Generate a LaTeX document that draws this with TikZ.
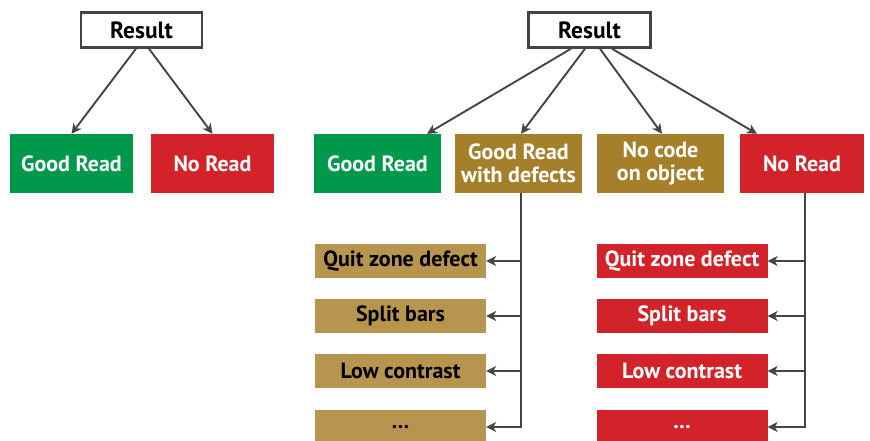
\documentclass[tikz,border=0pt]{standalone}
\usepackage{fontspec}
\setmainfont{PT Sans}
\usetikzlibrary{arrows.meta}
\definecolor{goodgreen}{HTML}{00984A}
\definecolor{noread}{HTML}{D2232A}
\definecolor{defgold}{HTML}{A67F2A}
\definecolor{subgold}{HTML}{B8954F}
\definecolor{linegray}{HTML}{444444}
\begin{document}
\begin{tikzpicture}[x=1pt,y=-1pt,
	every node/.style={inner sep=0pt,align=center,font=\bfseries\fontsize{22}{23}\selectfont},
	result/.style={draw=linegray,line width=2.5pt,fill=white,minimum width=121pt,minimum height=35pt,font=\bfseries\fontsize{23.5}{24}\selectfont},
	topbox/.style={minimum width=123pt,minimum height=59pt,text=white,font=\bfseries\fontsize{22}{23.5}\selectfont},
	subbox/.style={minimum width=171pt,minimum height=34pt},
	link/.style={linegray,line width=1.9pt,-{Stealth[length=10pt,width=10pt,inset=3pt]}}]
	\useasboundingbox (0,0) rectangle (870,440);

	\node[result] at (141.5,30) (res1) {Result};
	\node[topbox,fill=goodgreen] at (71.5,163.5) (good1) {Good Read};
	\node[topbox,fill=noread] at (212.5,163.5) (no1) {No Read};

	\node[result,minimum width=122pt] at (589.5,30) (res2) {Result};
	\node[topbox,fill=goodgreen,minimum width=127pt] at (377.5,163.5) (good2) {Good Read};
	\node[topbox,fill=defgold,minimum width=127pt] at (518.5,163.5) (defects) {Good Read\\with defects};
	\node[topbox,fill=defgold,minimum width=127pt] at (660.5,163.5) (nocode) {No code\\on object};
	\node[topbox,fill=noread,minimum width=124pt] at (802,163.5) (no2) {No Read};

	\node[subbox,fill=subgold] at (400.5,261) (dq) {Quit zone defect};
	\node[subbox,fill=subgold] at (400.5,316) (ds) {Split bars};
	\node[subbox,fill=subgold] at (400.5,371) (dl) {Low contrast};
	\node[subbox,fill=subgold] at (400.5,427) (dm) {\dots};

	\node[subbox,fill=noread,text=white] at (682,261) (nq) {Quit zone defect};
	\node[subbox,fill=noread,text=white] at (682,316) (ns) {Split bars};
	\node[subbox,fill=noread,text=white] at (682,371) (nl) {Low contrast};
	\node[subbox,fill=noread,text=white] at (682,427) (nm) {\dots};

	\draw[link] ([xshift=-5.5pt]res1.south) -- (good1.north);
	\draw[link] ([xshift=7.5pt]res1.south) -- (no1.north);

	\draw[link] ([xshift=-18.5pt]res2.south) -- ([xshift=49.5pt]good2.north);
	\draw[link] ([xshift=-4.5pt]res2.south) -- ([xshift=2.5pt]defects.north);
	\draw[link] ([xshift=10.5pt]res2.south) -- ([xshift=1.5pt]nocode.north);
	\draw[link] ([xshift=22.5pt]res2.south) -- ([xshift=-45pt]no2.north);

	\draw[link] ([xshift=2.5pt]defects.south) |- (dm.east);
	\draw[link] ([xshift=2.5pt]defects.south |- dq.east) -- (dq.east);
	\draw[link] ([xshift=2.5pt]defects.south |- ds.east) -- (ds.east);
	\draw[link] ([xshift=2.5pt]defects.south |- dl.east) -- (dl.east);

	\draw[link] ([xshift=3pt]no2.south) |- (nm.east);
	\draw[link] ([xshift=3pt]no2.south |- nq.east) -- (nq.east);
	\draw[link] ([xshift=3pt]no2.south |- ns.east) -- (ns.east);
	\draw[link] ([xshift=3pt]no2.south |- nl.east) -- (nl.east);
\end{tikzpicture}
\end{document}
